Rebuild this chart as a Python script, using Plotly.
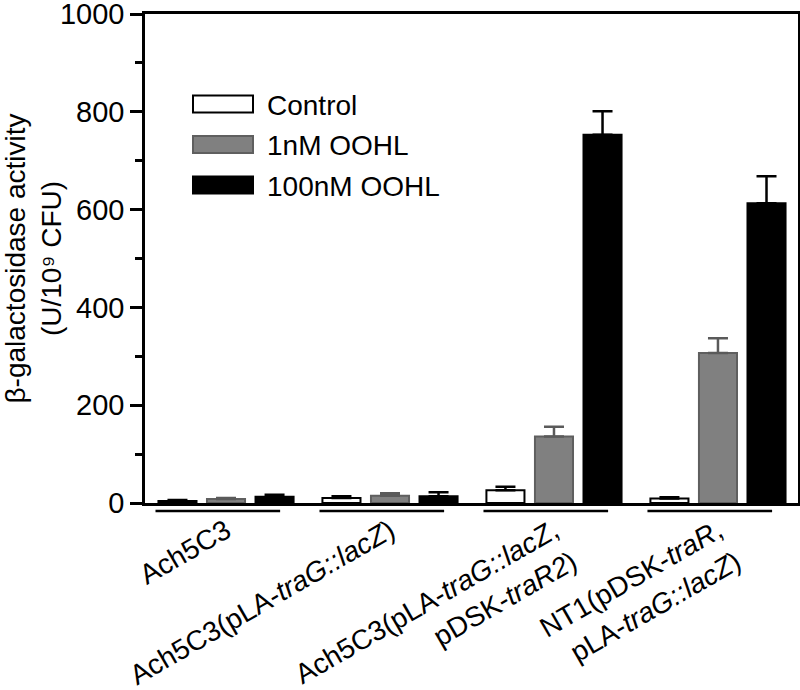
import plotly.graph_objects as go

# ---- data ----
categories = ["Ach5C3", "Ach5C3(pLA-traG::lacZ)",
              "Ach5C3(pLA-traG::lacZ, pDSK-traR2)", "NT1(pDSK-traR, pLA-traG::lacZ)"]
tick_labels = ["Ach5C3",
               "Ach5C3(pLA-<i>traG::lacZ</i>)",
               "Ach5C3(pLA-<i>traG::lacZ</i>,<br>pDSK-<i>traR2</i>)",
               "NT1(pDSK-<i>traR</i>,<br>pLA-<i>traG::lacZ</i>)"]
series_names = ["Control", "1nM OOHL", "100nM OOHL"]
control = [4, 10, 26, 9]
control_err = [2, 4, 7, 3]
nm1 = [8, 15, 136, 307]
nm1_err = [2, 5, 20, 30]
nm100 = [13, 14, 753, 613]
nm100_err = [4, 8, 48, 55]
y_ticks = [0, 200, 400, 600, 800, 1000]

FONT = "Liberation Sans, Arial, sans-serif"
W, H = 800, 690
# plot area in page pixels: x 145..798, y 14..503
PL, PR, PT, PB = 145, 798, 14, 503
ML, MR, MT, MB = PL, W - PR, PT, H - PB
PW, PH = PR - PL, PB - PT

styles = [
    dict(fill="white", line="black", err="black"),
    dict(fill="#808080", line="#5f5f5f", err="#5a5a5a"),
    dict(fill="black", line="black", err="black"),
]
values = [control, nm1, nm100]
errors = [control_err, nm1_err, nm100_err]

fig = go.Figure()
for name, vals, errs, st in zip(series_names, values, errors, styles):
    fig.add_trace(go.Bar(
        x=categories, y=vals, name=name,
        marker=dict(color=st["fill"], line=dict(color=st["line"], width=2)),
        error_y=dict(type="data", array=errs, arrayminus=[0] * len(errs),
                     symmetric=False, color=st["err"], thickness=2.5, width=10),
        showlegend=False,
    ))

def px_x(p):
    return (p - PL) / PW

def px_y(p):
    return (PB - p) / PH

shapes = []
annotations = []
# custom legend (large swatches as in the reference)
for i, (name, st) in enumerate(zip(series_names, styles)):
    cy = 104 + i * 40.5
    shapes.append(dict(type="rect", xref="paper", yref="paper",
                       x0=px_x(193), x1=px_x(253), y0=px_y(cy - 8.5), y1=px_y(cy + 8.5),
                       fillcolor=st["fill"], line=dict(color=st["line"], width=2)))
    annotations.append(dict(xref="paper", yref="paper", x=px_x(265), y=px_y(cy + 1),
                            xanchor="left", yanchor="middle", showarrow=False,
                            text=name, font=dict(family=FONT, size=28, color="black")))

# group underlines
for i in range(len(categories)):
    shapes.append(dict(type="line", xref="x", yref="paper",
                       x0=i - 0.43, x1=i + 0.33, y0=px_y(511), y1=px_y(511),
                       line=dict(color="black", width=2.5)))

fig.update_layout(
    width=W, height=H,
    margin=dict(l=ML, r=MR, t=MT, b=MB, pad=0),
    paper_bgcolor="white", plot_bgcolor="white",
    barmode="group", bargap=0.112, bargroupgap=0.216,
    font=dict(family=FONT, color="black"),
    shapes=shapes, annotations=annotations,
    xaxis=dict(type="category", range=[-0.494, 3.488], automargin=False,
               tickmode="array", tickvals=categories, ticktext=tick_labels,
               tickangle=-30, ticks="", ticklabelstandoff=-2,
               tickfont=dict(family=FONT, size=28, color="black"),
               showline=True, linecolor="black", linewidth=2.5,
               mirror=True, showgrid=False, zeroline=False),
    yaxis=dict(range=[0, 1000], tickvals=y_ticks, ticks="outside", ticklen=12,
               tickwidth=2.5, tickcolor="black", automargin=False,
               ticklabeloverflow="allow",
               minor=dict(dtick=100, ticks="outside", ticklen=7, tickwidth=2.5,
                          tickcolor="black", showgrid=False),
               showline=True, linecolor="black", linewidth=2.5, mirror=True,
               showgrid=False, zeroline=False,
               tickfont=dict(family=FONT, size=29, color="black"),
               title=dict(text="β-galactosidase activity<br>(U/10⁹ CFU)",
                          font=dict(family=FONT, size=28, color="black"), standoff=0)),
)

# remove the browser's default 8px body margin so the figure starts at the page corner
fig.write_html("out.html", config={"displayModeBar": False},
               post_script="document.body.style.margin='0px';")
